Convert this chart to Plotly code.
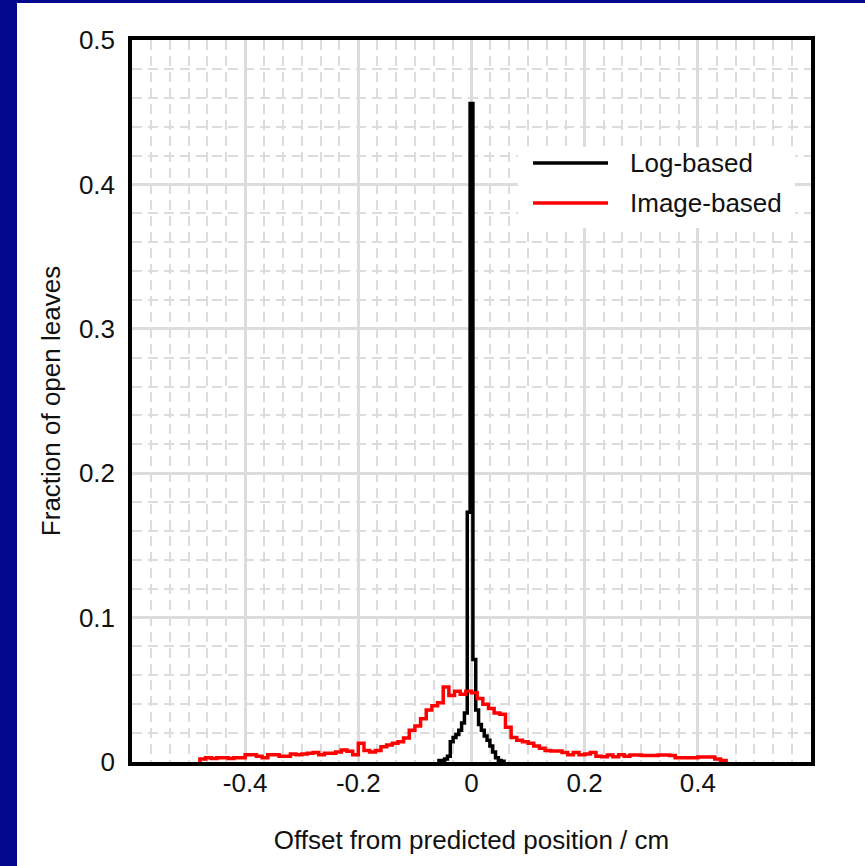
import numpy as np
import plotly.graph_objects as go

# ---------------- data ----------------
# Log-based histogram (bin width 0.005, first bin centred at -0.055)
log_start = -0.0575
log_width = 0.005
log_values = [0.001, 0.001, 0.002, 0.004, 0.014, 0.017, 0.019, 0.022, 0.027, 0.034,
              0.173, 0.456, 0.071,
              0.036, 0.026, 0.022, 0.018, 0.015, 0.011, 0.007, 0.003, 0.001, 0.0005]

# Image-based histogram (bin width 0.01, first bin edge at -0.48)
img_start = -0.48
img_width = 0.01
img_values = [0.002, 0.003, 0.0025, 0.003, 0.003, 0.0025, 0.003, 0.003,   # -0.48 .. -0.41
              0.005, 0.005, 0.004, 0.003, 0.005, 0.005, 0.004, 0.004,     # -0.40 .. -0.33
              0.0055, 0.005, 0.0055, 0.006, 0.0065, 0.005, 0.006, 0.006,  # -0.32 .. -0.25
              0.007, 0.0083, 0.0075, 0.005, 0.013, 0.008, 0.007, 0.008,   # -0.24 .. -0.17
              0.0106, 0.0118, 0.013, 0.014, 0.0166, 0.022, 0.025, 0.030,  # -0.16 .. -0.09
              0.036, 0.039, 0.041, 0.052, 0.046, 0.049, 0.047, 0.049,     # -0.08 .. -0.01
              0.048, 0.044, 0.040, 0.037, 0.034, 0.033, 0.024, 0.017,     # 0.00 .. 0.07
              0.015, 0.014, 0.013, 0.011, 0.0095, 0.008, 0.0076, 0.0076,  # 0.08 .. 0.15
              0.0065, 0.005, 0.0065, 0.005, 0.0055, 0.0065, 0.004, 0.0037,# 0.16 .. 0.23
              0.0048, 0.0037, 0.005, 0.004, 0.0048, 0.0048, 0.0045, 0.0045,# 0.24 .. 0.31
              0.0045, 0.0048, 0.0048, 0.0045, 0.003, 0.003, 0.003, 0.003, # 0.32 .. 0.39
              0.0035, 0.0035, 0.0035, 0.002, 0.001]                       # 0.40 .. 0.44

series_names = ["Log-based", "Image-based"]
x_tickvals = [-0.4, -0.2, 0, 0.2, 0.4]
x_ticktext = ["-0.4", "-0.2", "0", "0.2", "0.4"]
y_tickvals = [0, 0.1, 0.2, 0.3, 0.4, 0.5]
y_ticktext = ["0", "0.1", "0.2", "0.3", "0.4", "0.5"]
x_title = "Offset from predicted position / cm"
y_title = "Fraction of open leaves"


def step_xy(start, width, values):
    edges = start + width * np.arange(len(values) + 1)
    xs = np.concatenate([[edges[0]], edges])
    ys = [0] + list(values) + [0]
    return xs, ys


FONT = "Liberation Sans, Arial, sans-serif"
BLUE = "#03088c"
GRID = "#dcdcdc"

fig = go.Figure()
lx, ly = step_xy(log_start, log_width, log_values)
ix, iy = step_xy(img_start, img_width, img_values)
fig.add_trace(go.Scatter(x=lx, y=ly, mode="lines", line=dict(color="black", width=3.5, shape="hv"),
                         name=series_names[0], showlegend=False))
fig.add_trace(go.Scatter(x=ix, y=iy, mode="lines", line=dict(color="#ff0000", width=3.5, shape="hv"),
                         name=series_names[1], showlegend=False))

fig.update_layout(
    width=865, height=866,
    margin=dict(l=132, r=54, t=40, b=104),
    paper_bgcolor="white", plot_bgcolor="white",
    font=dict(family=FONT, size=26, color="#111111"),
    showlegend=False,
)
fig.update_xaxes(
    range=[-0.6, 0.6], tickvals=x_tickvals, ticktext=x_ticktext,
    showgrid=True, gridcolor=GRID, gridwidth=3,
    minor=dict(dtick=0.2 / 6, tick0=0, showgrid=True, gridcolor=GRID, gridwidth=2, griddash="10px,6px"),
    zeroline=False, showline=True, linecolor="black", linewidth=3.5, mirror=True,
    ticks="", ticklabelstandoff=-5,
    title=dict(text=x_title, standoff=35, font=dict(size=26)),
    automargin=False,
)
fig.update_yaxes(
    range=[0, 0.5], tickvals=y_tickvals, ticktext=y_ticktext,
    showgrid=True, gridcolor=GRID, gridwidth=3,
    minor=dict(dtick=0.02, tick0=0, showgrid=True, gridcolor=GRID, gridwidth=2, griddash="10px,6px"),
    zeroline=False, showline=True, linecolor="black", linewidth=3.5, mirror=True,
    ticks="", ticklabelstandoff=8,
    title=dict(text=y_title, standoff=12, font=dict(size=26)),
    automargin=False,
)

# slide frame (blue strips at left and top)
fig.add_shape(type="rect", xref="paper", yref="paper", xsizemode="pixel", ysizemode="pixel",
              xanchor=0, yanchor=1, x0=-133, x1=-115, y0=41, y1=-830,
              fillcolor=BLUE, line_width=0, layer="above")
fig.add_shape(type="rect", xref="paper", yref="paper", xsizemode="pixel", ysizemode="pixel",
              xanchor=0, yanchor=1, x0=-133, x1=740, y0=41, y1=37,
              fillcolor=BLUE, line_width=0, layer="above")

# legend (manual, to match the long line samples)
fig.add_shape(type="rect", xref="paper", yref="paper", x0=0.5685, x1=0.9764, y0=0.7396, y1=0.8518,
              fillcolor="white", line_width=0, layer="above")
legend_colors = ["black", "#ff0000"]
legend_y = [0.8296, 0.7742]
for name, col, yy in zip(series_names, legend_colors, legend_y):
    fig.add_shape(type="line", xref="paper", yref="paper", x0=0.5906, x1=0.7010, y0=yy, y1=yy,
                  line=dict(color=col, width=3.5), layer="above")
    fig.add_annotation(xref="paper", yref="paper", x=0.7305, y=yy, text=name, showarrow=False,
                       xanchor="left", yanchor="middle", font=dict(family=FONT, size=26, color="#111111"))

fig.write_html("out.html", config={"displayModeBar": False},
               post_script="document.body.style.margin='0';")
